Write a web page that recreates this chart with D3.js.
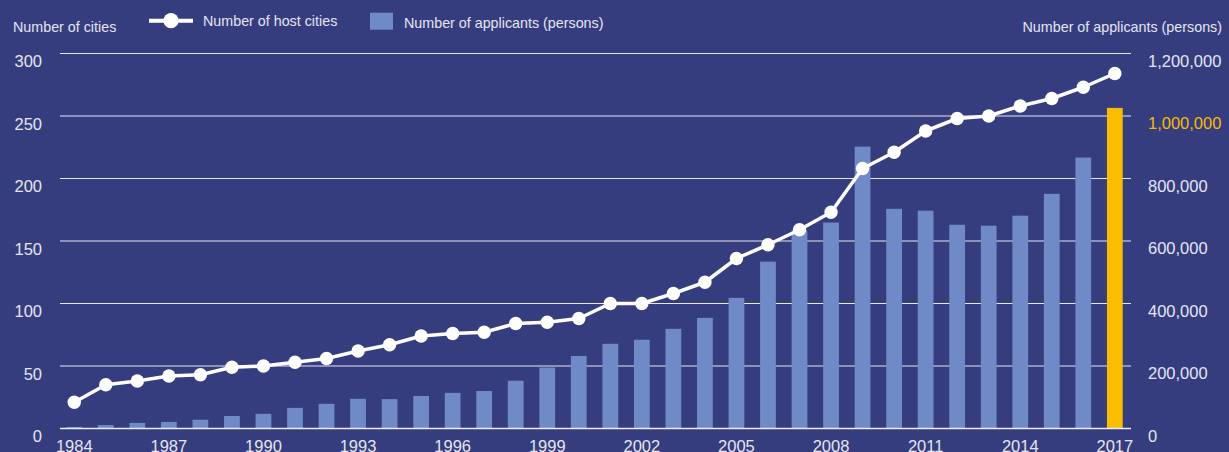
<!DOCTYPE html>
<html>
<head>
<meta charset="utf-8">
<script src="https://cdn.jsdelivr.net/npm/d3@7"></script>
<style>
    html, body { margin: 0; padding: 0; background: #363d7f; }
    svg { display: block; }
    text { font-family: "Liberation Sans", Arial, Helvetica, sans-serif; fill: #e4e5f0; }
    .tick text { font-size: 16.5px; }
    .title { font-size: 14.3px; }
</style>
</head>
<body>
<svg width="1229" height="452"></svg>
<script>
var years = [1984, 1985, 1986, 1987, 1988, 1989, 1990, 1991, 1992, 1993, 1994,
    1995, 1996, 1997, 1998, 1999, 2000, 2001, 2002, 2003, 2004, 2005, 2006,
    2007, 2008, 2009, 2010, 2011, 2012, 2013, 2014, 2015, 2016, 2017];

// number of host cities (left axis)
var cities = [21, 35, 38, 42, 43, 49, 50, 53, 56, 62, 67, 74, 76, 77, 84, 85,
    88, 100, 100, 108, 117, 136, 147, 159, 173, 208, 221, 238, 248, 250, 258,
    264, 273, 284];

// number of applicants (right axis)
var applicants = [5000, 11000, 18000, 21000, 28000, 40000, 47000, 66000,
    79000, 95000, 94000, 104000, 114000, 120000, 153000, 195000, 232000,
    271000, 284000, 319000, 354000, 418000, 534000, 634000, 659000, 902000,
    703000, 697000, 652000, 649000, 681000, 751000, 867000, 1026000];

var cityTicks = [0, 50, 100, 150, 200, 250, 300];
var applicantTicks = [0, 200000, 400000, 600000, 800000, 1000000, 1200000];
var yearTicks = [1984, 1987, 1990, 1993, 1996, 1999, 2002, 2005, 2008, 2011, 2014, 2017];

var svg = d3.select("svg");

var x = d3.scaleBand()
    .domain(years)
    .range([58.5, 1130.6])
    .paddingInner(0.5)
    .paddingOuter(0.25);

var yL = d3.scaleLinear().domain([0, 300]).range([428.5, 53.5]);
var yR = d3.scaleLinear().domain([0, 1200000]).range([428.5, 53.5]);

// grid lines
svg.append("g")
    .selectAll("line")
    .data(cityTicks.slice(1))
    .enter()
    .append("line")
    .attr("x1", 60)
    .attr("x2", 1131)
    .attr("y1", (d) => yL(d))
    .attr("y2", (d) => yL(d))
    .style("stroke", "#e6e7f3")
    .style("stroke-width", 1);

// bars
svg.append("g")
    .selectAll("rect")
    .data(years)
    .enter()
    .append("rect")
    .attr("x", (d) => x(d))
    .attr("width", x.bandwidth())
    .attr("y", (d, i) => yR(applicants[i]))
    .attr("height", (d, i) => yR(0) - yR(applicants[i]))
    .style("fill", (d) => (d == 2017 ? "#f8bd00" : "#6f8ac6"));

// baseline
svg.append("line")
    .attr("x1", 60)
    .attr("x2", 1131)
    .attr("y1", yL(0))
    .attr("y2", yL(0))
    .style("stroke", "#eeeef6")
    .style("stroke-width", 1.5);

// line of host cities
var line = d3.line()
    .x((d, i) => x(years[i]) + x.bandwidth() / 2)
    .y((d) => yL(d));

svg.append("path")
    .datum(cities)
    .attr("d", line)
    .style("fill", "none")
    .style("stroke", "#fff")
    .style("stroke-width", 3.5)
    .style("stroke-linejoin", "round");

svg.append("g")
    .selectAll("circle")
    .data(cities)
    .enter()
    .append("circle")
    .attr("cx", (d, i) => x(years[i]) + x.bandwidth() / 2)
    .attr("cy", (d) => yL(d))
    .attr("r", 6.7)
    .style("fill", "#fff");

// axes
var leftAxis = svg.append("g")
    .attr("transform", "translate(42,0)")
    .call(d3.axisLeft(yL).tickValues(cityTicks).tickSize(0).tickPadding(0));
leftAxis.select(".domain").remove();
leftAxis.selectAll("text").attr("dy", 13).style("fill", "#e4e5f0");

var rightAxis = svg.append("g")
    .attr("transform", "translate(1148,0)")
    .call(d3.axisRight(yR).tickValues(applicantTicks).tickSize(0).tickPadding(0)
        .tickFormat(d3.format(",")));
rightAxis.select(".domain").remove();
rightAxis.selectAll("text")
    .attr("dy", 12.5)
    .style("fill", (d) => (d == 1000000 ? "#f5bb00" : "#e4e5f0"));

var bottomAxis = svg.append("g")
    .attr("transform", "translate(0," + yL(0) + ")")
    .call(d3.axisBottom(x).tickValues(yearTicks).tickSize(0));
bottomAxis.select(".domain").remove();
bottomAxis.selectAll("text").attr("y", 0).attr("dy", 23.2).style("fill", "#e4e5f0");

// axis titles
svg.append("text")
    .attr("class", "title")
    .attr("x", 13)
    .attr("y", 32.3)
    .text("Number of cities");

svg.append("text")
    .attr("class", "title")
    .attr("x", 1222)
    .attr("y", 32.3)
    .attr("text-anchor", "end")
    .text("Number of applicants (persons)");

// legend
var legend = svg.append("g");
legend.append("line")
    .attr("x1", 149)
    .attr("x2", 193)
    .attr("y1", 20.7)
    .attr("y2", 20.7)
    .style("stroke", "#fff")
    .style("stroke-width", 4);
legend.append("circle")
    .attr("cx", 171)
    .attr("cy", 20.7)
    .attr("r", 7.6)
    .style("fill", "#fff");
legend.append("text")
    .attr("class", "title")
    .attr("x", 203)
    .attr("y", 26)
    .text("Number of host cities");
legend.append("rect")
    .attr("x", 370)
    .attr("y", 12.7)
    .attr("width", 23)
    .attr("height", 17)
    .style("fill", "#6f8ac6");
legend.append("text")
    .attr("class", "title")
    .attr("x", 404)
    .attr("y", 27.5)
    .text("Number of applicants (persons)");
</script>
</body>
</html>
